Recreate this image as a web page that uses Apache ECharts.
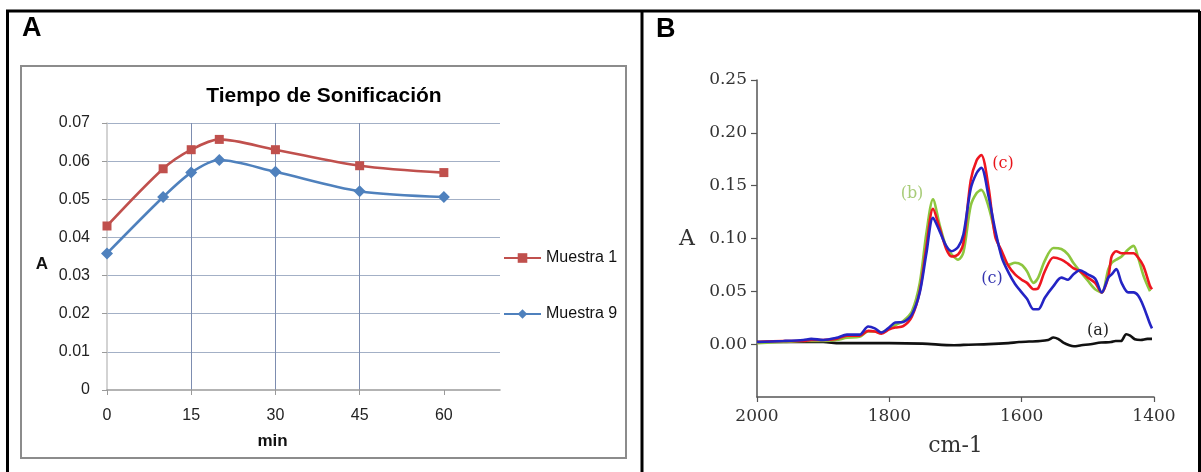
<!DOCTYPE html>
<html>
<head>
<meta charset="utf-8">
<script src="https://cdn.jsdelivr.net/npm/echarts@6/dist/echarts.min.js"></script>
<style>
  html, body { margin: 0; padding: 0; background: #fff; }
  #chart { width: 1201px; height: 472px; }
</style>
</head>
<body>
<div id="chart"></div>
<script>
// Panel A: absorbance vs sonication time
const sonicMinutes = [0, 10, 15, 20, 30, 45, 60];
const muestra1 = [0.043, 0.058, 0.063, 0.0657, 0.063, 0.0588, 0.057];
const muestra9 = [0.0358, 0.0506, 0.057, 0.0603, 0.0572, 0.0521, 0.0506];
const minuteTicks = [0, 15, 30, 45, 60];

// Panel B: FTIR spectra (wavenumber in cm-1, absorbance)
const wavenumbers = [2000, 1960, 1930, 1918, 1900, 1880, 1864, 1845, 1832, 1822, 1812, 1800, 1791, 1779, 1766, 1754, 1744, 1734, 1724, 1714, 1706, 1696, 1688, 1677, 1668, 1661, 1650, 1640, 1630, 1620, 1610, 1600, 1592, 1582, 1575, 1565, 1552, 1540, 1530, 1522, 1512, 1500, 1489, 1479, 1469, 1464, 1457, 1449, 1439, 1431, 1424, 1416, 1406, 1403];
const specB = [0.001, 0.002, 0.003, 0.003, 0.003, 0.004, 0.006, 0.007, 0.012, 0.012, 0.011, 0.015, 0.018, 0.022, 0.031, 0.058, 0.105, 0.137, 0.113, 0.092, 0.085, 0.080, 0.087, 0.131, 0.143, 0.146, 0.130, 0.105, 0.085, 0.075, 0.077, 0.075, 0.069, 0.058, 0.063, 0.079, 0.091, 0.090, 0.085, 0.077, 0.069, 0.060, 0.052, 0.049, 0.071, 0.077, 0.080, 0.083, 0.0896, 0.093, 0.082, 0.065, 0.050, null];
const specCRed = [0.002, 0.003, 0.003, 0.004, 0.004, 0.005, 0.008, 0.008, 0.0126, 0.012, 0.010, 0.014, 0.0157, 0.017, 0.026, 0.050, 0.092, 0.128, 0.110, 0.090, 0.083, 0.085, 0.096, 0.155, 0.174, 0.179, 0.148, 0.102, 0.088, 0.074, 0.066, 0.061, 0.058, 0.052, 0.053, 0.069, 0.082, 0.080, 0.076, 0.072, 0.069, 0.063, 0.058, 0.049, 0.064, 0.083, 0.088, 0.086, 0.086, 0.086, 0.082, 0.074, 0.055, 0.052];
const specCBlue = [0.002, 0.003, 0.004, 0.005, 0.004, 0.006, 0.009, 0.009, 0.0167, 0.015, 0.011, 0.016, 0.0205, 0.021, 0.028, 0.049, 0.086, 0.1195, 0.107, 0.093, 0.088, 0.092, 0.104, 0.147, 0.162, 0.167, 0.140, 0.108, 0.082, 0.068, 0.057, 0.049, 0.043, 0.033, 0.033, 0.044, 0.055, 0.063, 0.061, 0.066, 0.070, 0.066, 0.062, 0.049, 0.063, 0.066, 0.071, 0.058, 0.049, 0.049, 0.046, 0.036, 0.019, 0.015];
const wavenumbersA = [2000, 1950, 1900, 1875, 1800, 1750, 1702, 1680, 1650, 1620, 1604, 1572, 1560, 1552, 1545, 1537, 1528, 1521, 1510, 1496, 1480, 1465, 1458, 1450, 1442, 1436, 1429, 1420, 1410, 1403];
const specA = [0.002, 0.002, 0.002, 0.001, 0.001, 0.0005, -0.001, -0.0005, 0, 0.001, 0.002, 0.003, 0.004, 0.0063, 0.005, 0.0015, -0.001, -0.002, -0.001, 0, 0.0015, 0.002, 0.003, 0.003, 0.0094, 0.008, 0.0047, 0.004, 0.005, 0.005];
const absTicks = [0, 0.05, 0.10, 0.15, 0.20, 0.25];
const wnTicks = [1400, 1600, 1800, 2000];

const pair = (xs, ys) => xs.map((x, i) => [x, ys[i]]);

const SANS = 'Liberation Sans, Arial, sans-serif';
const SERIF = 'DejaVu Serif, Liberation Serif, serif';

const chart = echarts.init(document.getElementById('chart'), null, { renderer: 'canvas' });

const option = {
  animation: false,
  backgroundColor: '#ffffff',
  legend: {
    orient: 'vertical',
    left: 503,
    top: 249,
    padding: 0,
    itemWidth: 37,
    itemHeight: 12,
    itemGap: 38,
    data: ['Muestra 1', 'Muestra 9'],
    textStyle: { fontFamily: SANS, fontSize: 16, color: '#111', lineHeight: 18 }
  },
  grid: [
    { left: 107, top: 123, width: 393, height: 267, show: false },
    { left: 757, top: 80, width: 397, height: 317, show: false }
  ],
  xAxis: [
    {
      gridIndex: 0, type: 'value', min: 0, max: 70, interval: 15,
      axisLine: { show: true, onZero: true, lineStyle: { color: '#9a9a9a', width: 1.5 } },
      axisTick: { show: true, length: 5, customValues: minuteTicks, lineStyle: { color: '#9a9a9a' } },
      axisLabel: {
        customValues: minuteTicks, margin: 18, fontFamily: SANS, fontSize: 16, color: '#222',
        formatter: v => (minuteTicks.indexOf(v) >= 0 ? String(v) : '')
      },
      splitLine: { show: true, showMinLine: false, showMaxLine: false, lineStyle: { color: '#7d8db0', width: 1 } },
      name: 'min', nameLocation: 'middle', nameGap: 43,
      nameTextStyle: { fontFamily: SANS, fontWeight: 'bold', fontSize: 17, color: '#111', padding: [0, 62, 0, 0] }
    },
    {
      gridIndex: 1, type: 'value', inverse: true, min: 1400, max: 2000, interval: 200,
      axisLine: { show: true, onZero: false, lineStyle: { color: '#555', width: 1.5 } },
      axisTick: { show: true, length: 5, customValues: wnTicks, lineStyle: { color: '#555', width: 1.2 } },
      axisLabel: {
        customValues: wnTicks, margin: 11, fontFamily: SERIF, fontSize: 17, color: '#333',
        formatter: v => String(v)
      },
      splitLine: { show: false },
      name: 'cm-1', nameLocation: 'middle', nameGap: 38,
      nameTextStyle: { fontFamily: SERIF, fontSize: 22, color: '#333' }
    }
  ],
  yAxis: [
    {
      gridIndex: 0, type: 'value', min: 0, max: 0.07, interval: 0.01,
      axisLine: { show: true, lineStyle: { color: '#c4c4c4', width: 1.5 } },
      axisTick: { show: true, length: 5, lineStyle: { color: '#9a9a9a' } },
      axisLabel: {
        margin: 17, fontFamily: SANS, fontSize: 16, color: '#222',
        formatter: v => (Math.abs(v) < 1e-9 ? '0' : v.toFixed(2))
      },
      splitLine: { show: true, showMinLine: false, showMaxLine: true, lineStyle: { color: '#a3b0c6', width: 1 } }
    },
    {
      gridIndex: 1, type: 'value', min: -0.05, max: 0.25, interval: 0.05,
      axisLine: { show: true, onZero: false, lineStyle: { color: '#555', width: 1.5 } },
      axisTick: { show: true, length: 6, customValues: absTicks, lineStyle: { color: '#555', width: 1.2 } },
      axisLabel: {
        customValues: absTicks, margin: 10, fontFamily: SERIF, fontSize: 17, color: '#333',
        formatter: v => (v < -1e-9 ? '' : v.toFixed(2))
      },
      splitLine: { show: false }
    }
  ],
  series: [
    {
      name: 'Muestra 1', type: 'line', xAxisIndex: 0, yAxisIndex: 0,
      data: pair(sonicMinutes, muestra1), smooth: 0.3,
      symbol: 'rect', symbolSize: 9,
      lineStyle: { color: '#C0504D', width: 2.6 },
      itemStyle: { color: '#C0504D' }
    },
    {
      name: 'Muestra 9', type: 'line', xAxisIndex: 0, yAxisIndex: 0,
      data: pair(sonicMinutes, muestra9), smooth: 0.3,
      symbol: 'diamond', symbolSize: 12,
      lineStyle: { color: '#4F81BD', width: 2.6 },
      itemStyle: { color: '#4F81BD' }
    },
    {
      name: '(a)', type: 'line', xAxisIndex: 1, yAxisIndex: 1,
      data: pair(wavenumbersA, specA), smooth: 0.3, showSymbol: false,
      lineStyle: { color: '#111', width: 2.6 }
    },
    {
      name: '(b)', type: 'line', xAxisIndex: 1, yAxisIndex: 1,
      data: pair(wavenumbers, specB), smooth: 0.3, showSymbol: false,
      lineStyle: { color: '#8DC63F', width: 2.6 }
    },
    {
      name: '(c) rojo', type: 'line', xAxisIndex: 1, yAxisIndex: 1,
      data: pair(wavenumbers, specCRed), smooth: 0.3, showSymbol: false,
      lineStyle: { color: '#EE1620', width: 2.6 }
    },
    {
      name: '(c) azul', type: 'line', xAxisIndex: 1, yAxisIndex: 1,
      data: pair(wavenumbers, specCBlue), smooth: 0.3, showSymbol: false,
      lineStyle: { color: '#2424C4', width: 2.6 }
    }
  ],
  graphic: [
    // outer frame and panel divider
    { type: 'line', shape: { x1: 6, y1: 11, x2: 1200, y2: 11 }, style: { stroke: '#000', lineWidth: 3 } },
    { type: 'line', shape: { x1: 7.5, y1: 11, x2: 7.5, y2: 472 }, style: { stroke: '#000', lineWidth: 3 } },
    { type: 'line', shape: { x1: 642, y1: 11, x2: 642, y2: 472 }, style: { stroke: '#000', lineWidth: 3 } },
    { type: 'line', shape: { x1: 1199.5, y1: 11, x2: 1199.5, y2: 472 }, style: { stroke: '#000', lineWidth: 3 } },
    // chart frame of panel A
    { type: 'rect', shape: { x: 21, y: 66, width: 605, height: 392 }, style: { fill: null, stroke: '#8c8c8c', lineWidth: 2 }, z: -1 },
    // panel letters
    { type: 'text', style: { text: 'A', x: 22, y: 29, textVerticalAlign: 'middle', font: 'bold 27px ' + SANS, fill: '#000' } },
    { type: 'text', style: { text: 'B', x: 656, y: 30, textVerticalAlign: 'middle', font: 'bold 27px ' + SANS, fill: '#000' } },
    // panel A title and value-axis title
    { type: 'text', style: { text: 'Tiempo de Sonificación', x: 324, y: 96, textAlign: 'center', textVerticalAlign: 'middle', font: 'bold 21px ' + SANS, fill: '#000' } },
    { type: 'text', style: { text: 'A', x: 42, y: 264, textAlign: 'center', textVerticalAlign: 'middle', font: 'bold 17px ' + SANS, fill: '#111' } },
    // panel B axis title and curve labels
    { type: 'text', style: { text: 'A', x: 687, y: 239, textAlign: 'center', textVerticalAlign: 'middle', font: '22px ' + SERIF, fill: '#333' } },
    { type: 'text', style: { text: '(c)', x: 1003, y: 164, textAlign: 'center', textVerticalAlign: 'middle', font: '16px ' + SERIF, fill: '#E8141A' } },
    { type: 'text', style: { text: '(b)', x: 912, y: 194, textAlign: 'center', textVerticalAlign: 'middle', font: '16px ' + SERIF, fill: '#A8CC78' } },
    { type: 'text', style: { text: '(c)', x: 992, y: 279, textAlign: 'center', textVerticalAlign: 'middle', font: '16px ' + SERIF, fill: '#3434B0' } },
    { type: 'text', style: { text: '(a)', x: 1098, y: 331, textAlign: 'center', textVerticalAlign: 'middle', font: '16px ' + SERIF, fill: '#222' } }
  ]
};

chart.setOption(option);
</script>
</body>
</html>
